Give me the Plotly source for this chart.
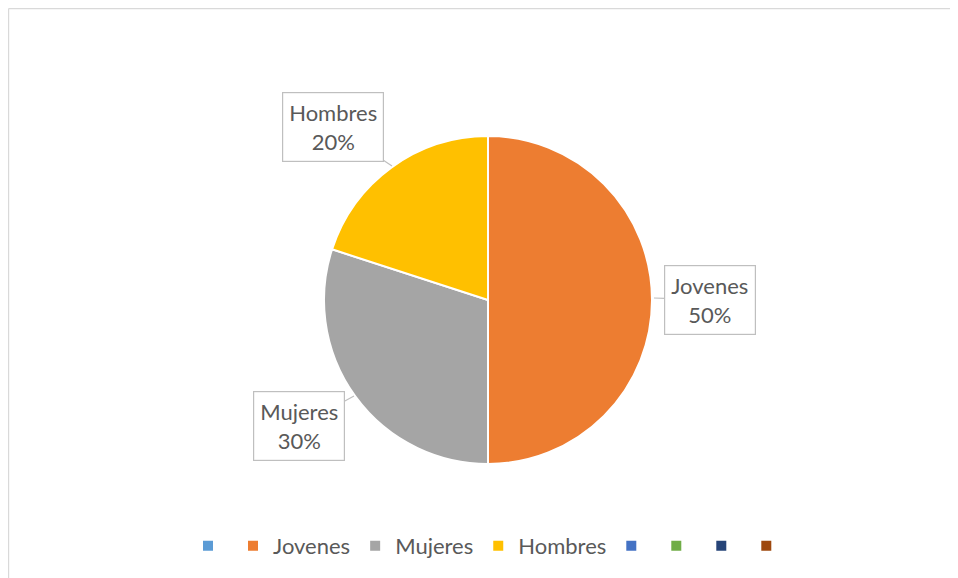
import plotly.graph_objects as go

labels = ["\u200b", "Jovenes", "Mujeres", "Hombres", "\u200b\u200b", "\u200b\u200b\u200b", "\u200b\u200b\u200b\u200b", "\u200b\u200b\u200b\u200b\u200b"]
values = [0, 50, 30, 20, 0, 0, 0, 0]
colors = ["#5B9BD5", "#ED7D31", "#A5A5A5", "#FFC000", "#4472C4", "#70AD47", "#264478", "#9E480E"]

callout_labels = ["Jovenes", "Mujeres", "Hombres"]
callout_pcts = ["50%", "30%", "20%"]

# page has an 8px body margin, so the figure is 950x570 and sits at (8, 8)
W, H = 950, 570
OFF = 8
FONT = "Lato"
TXT = "#595959"

CX, CY, R = 488 - OFF, 300 - OFF, 164

fig = go.Figure(go.Pie(
    labels=labels,
    values=values,
    marker=dict(colors=colors, line=dict(color="white", width=2)),
    sort=False,
    direction="clockwise",
    rotation=0,
    textinfo="none",
    hoverinfo="label+percent",
    domain=dict(x=[(CX - R) / W, (CX + R) / W],
                y=[(H - CY - R) / H, (H - CY + R) / H]),
    showlegend=True,
))

# callout boxes: (tip x, tip y, box centre x, box centre y) in reference pixels
callout_pos = {
    "Jovenes": (654, 298, 710, 300),
    "Mujeres": (354, 396, 299, 426),
    "Hombres": (392, 166, 333, 127),
}
for lab, pct in zip(callout_labels, callout_pcts):
    tx, ty, bx, by = callout_pos[lab]
    fig.add_annotation(
        x=(tx - OFF) / W, y=1 - (ty - OFF) / H, xref="paper", yref="paper",
        ax=bx - tx, ay=by - ty, axref="pixel", ayref="pixel",
        text=f"{lab}<br>{pct}",
        showarrow=True, arrowhead=0, arrowwidth=1.2, arrowcolor="#BFBFBF",
        font=dict(family=FONT, size=22, color=TXT),
        bgcolor="white", bordercolor="#BFBFBF", borderwidth=1.2, borderpad=6,
        align="center",
    )

# chart frame: only top and left edges are visible in the reference
frame = dict(color="#D9D9D9", width=1.2)
fig.add_shape(type="line", xref="paper", yref="paper",
              x0=0.6 / W, x1=1.0, y0=1 - 0.6 / H, y1=1 - 0.6 / H, line=frame)
fig.add_shape(type="line", xref="paper", yref="paper",
              x0=0.6 / W, x1=0.6 / W, y0=0.0, y1=1 - 0.6 / H, line=frame)

fig.update_layout(
    width=W, height=H,
    margin=dict(l=0, r=0, t=0, b=0),
    paper_bgcolor="white", plot_bgcolor="white",
    font=dict(family=FONT, color=TXT),
    legend=dict(orientation="h", x=(490 - OFF) / W, xanchor="center",
                y=1 - (546 - OFF) / H, yanchor="middle",
                font=dict(family=FONT, size=22, color=TXT), itemwidth=30,
                traceorder="normal"),
)

fig.write_html("out.html")
